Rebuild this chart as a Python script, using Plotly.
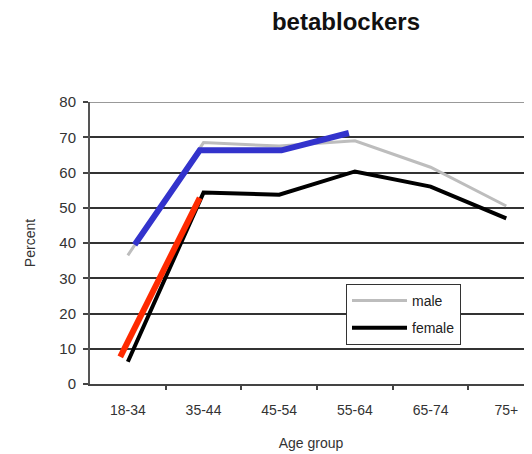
import plotly.graph_objects as go

categories = ["18-34", "35-44", "45-54", "55-64", "65-74", "75+"]
male = [36.5, 68.5, 67.5, 69.0, 61.5, 50.5]
female = [6.3, 54.3, 53.7, 60.3, 56.0, 47.0]

# hand-drawn overlay strokes (x as category index positions)
blue_x = [0.09, 0.95, 2.03, 2.92]
blue_y = [39.5, 66.3, 66.3, 71.2]
red_x = [-0.1, 0.95]
red_y = [7.7, 52.8]

y_ticks = [0, 10, 20, 30, 40, 50, 60, 70, 80]
boundaries = [0.5, 1.5, 2.5, 3.5, 4.5]

xi = list(range(len(categories)))
font = "Liberation Sans, Arial, sans-serif"

# the page body adds an 8px offset; compensate
OFF = 8
W, H = 532 - OFF, 454 - OFF

fig = go.Figure()
fig.add_trace(go.Scatter(x=xi, y=male, mode="lines", name="male",
                         legendgroup="m",
                         line=dict(color="#bdbdbd", width=3)))
fig.add_trace(go.Scatter(x=xi, y=female, mode="lines", name="female",
                         legendgroup="f",
                         line=dict(color="#000000", width=4)))
fig.add_trace(go.Scatter(x=blue_x, y=blue_y, mode="lines", showlegend=False,
                         line=dict(color="#3333cc", width=6)))
fig.add_trace(go.Scatter(x=red_x, y=red_y, mode="lines", showlegend=False,
                         line=dict(color="#ff2a00", width=6)))

# top gridline (lighter)
fig.add_shape(type="line", xref="paper", yref="y", x0=0, x1=1,
              y0=y_ticks[-1], y1=y_ticks[-1],
              line=dict(color="#999999", width=2), layer="below")

fig.update_layout(
    width=W, height=H,
    margin=dict(l=90 - OFF, r=0, t=102 - OFF, b=70),
    paper_bgcolor="white", plot_bgcolor="white",
    font=dict(family=font, color="#333333", size=14),
    title=dict(text="<b>betablockers</b>", x=(346 - OFF) / W, xanchor="center",
               y=1 - (22 - OFF) / H, yanchor="middle",
               font=dict(family=font, size=24, color="#111111")),
    xaxis=dict(range=[-0.5, 5.34], tickmode="array", tickvals=xi,
               ticktext=categories, showgrid=False, zeroline=False,
               automargin=False,
               showline=True, linecolor="#444444", linewidth=2,
               ticks="", ticklabelstandoff=12,
               minor=dict(tickmode="array", tickvals=boundaries,
                          ticks="outside", ticklen=4, tickwidth=2,
                          tickcolor="#444444", showgrid=False),
               tickfont=dict(size=14, color="#333333"),
               title=dict(text="Age group", font=dict(size=14, color="#333333"),
                          standoff=21)),
    yaxis=dict(range=[0, 80], tickmode="array", tickvals=y_ticks,
               showgrid=True, gridcolor="#333333", gridwidth=2,
               automargin=False,
               zeroline=False, showline=True, linecolor="#555555", linewidth=2,
               ticks="outside", ticklen=5, tickcolor="#444444", tickwidth=2,
               ticklabelstandoff=4,
               tickfont=dict(size=15, color="#333333"),
               title=dict(text="Percent", font=dict(size=14, color="#333333"),
                          standoff=20)),
    legend=dict(x=(346 - 90) / 442, y=(384 - 284) / 282, xanchor="left",
                yanchor="top", bgcolor="white", bordercolor="#333333",
                borderwidth=1, itemwidth=55, traceorder="grouped",
                tracegroupgap=6, entrywidth=120, entrywidthmode="pixels",
                font=dict(size=14, color="#222222")),
)

fig.write_html("out.html")
